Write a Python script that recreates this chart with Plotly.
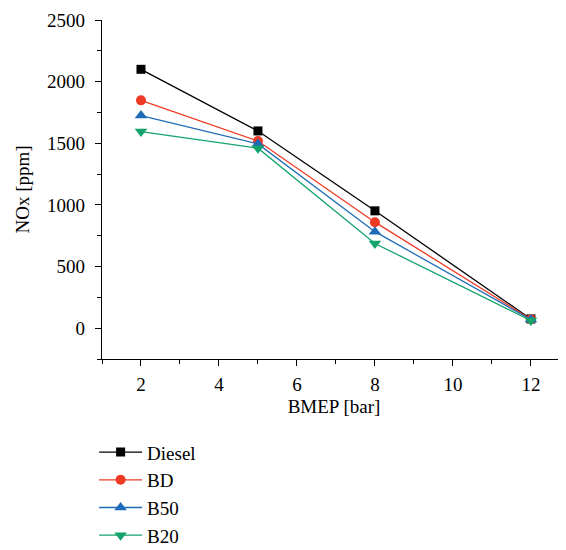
import plotly.graph_objects as go

bmep = [2, 5, 8, 12]
diesel = [2100, 1600, 952, 75]
bd = [1848, 1518, 860, 72]
b50 = [1725, 1495, 783, 70]
b20 = [1595, 1460, 687, 62]

series = [
    ("Diesel", diesel, "#000000", "square", 9),
    ("BD", bd, "#EE3A25", "circle", 10),
    ("B50", b50, "#1E6CB7", "triangle-up", 11),
    ("B20", b20, "#14A36B", "triangle-down", 11),
]

font_family = "Liberation Serif"

fig = go.Figure()
for name, vals, color, sym, sz in series:
    fig.add_trace(go.Scatter(
        x=bmep, y=vals, name=name, mode="lines+markers",
        line=dict(color=color, width=1.3),
        marker=dict(symbol=sym, size=sz, color=color, line=dict(width=0)),
    ))

axis_common = dict(
    showgrid=False, zeroline=False, showline=True, linecolor="black", linewidth=1.3,
    ticks="outside", ticklen=6, tickwidth=1.3, tickcolor="black",
    tickfont=dict(family=font_family, size=19, color="black"),
)

fig.update_xaxes(
    range=[1, 12.9], tick0=0, dtick=2,
    minor=dict(ticks="outside", ticklen=4, tickwidth=1.3, tickcolor="black", dtick=1, tick0=1),
    title=dict(text="BMEP [bar]", font=dict(family=font_family, size=19, color="black"), standoff=5),
    ticklabelstandoff=2,
    **axis_common,
)
fig.update_yaxes(
    range=[-250, 2500], tick0=0, dtick=500,
    minor=dict(ticks="outside", ticklen=4, tickwidth=1.3, tickcolor="black", dtick=250, tick0=0),
    title=dict(text="NOx [ppm]", font=dict(family=font_family, size=19, color="black"), standoff=12),
    ticklabelstandoff=6,
    **axis_common,
)

fig.update_layout(
    width=558, height=542,
    margin=dict(l=94, r=0, t=12, b=191, autoexpand=False),
    paper_bgcolor="white", plot_bgcolor="white",
    showlegend=True,
    legend=dict(
        x=-0.017, y=-0.219, xanchor="left", yanchor="top",
        font=dict(family=font_family, size=19, color="black"),
        bgcolor="rgba(0,0,0,0)", tracegroupgap=0, itemwidth=43,
    ),
)

fig.write_html("out.html")
